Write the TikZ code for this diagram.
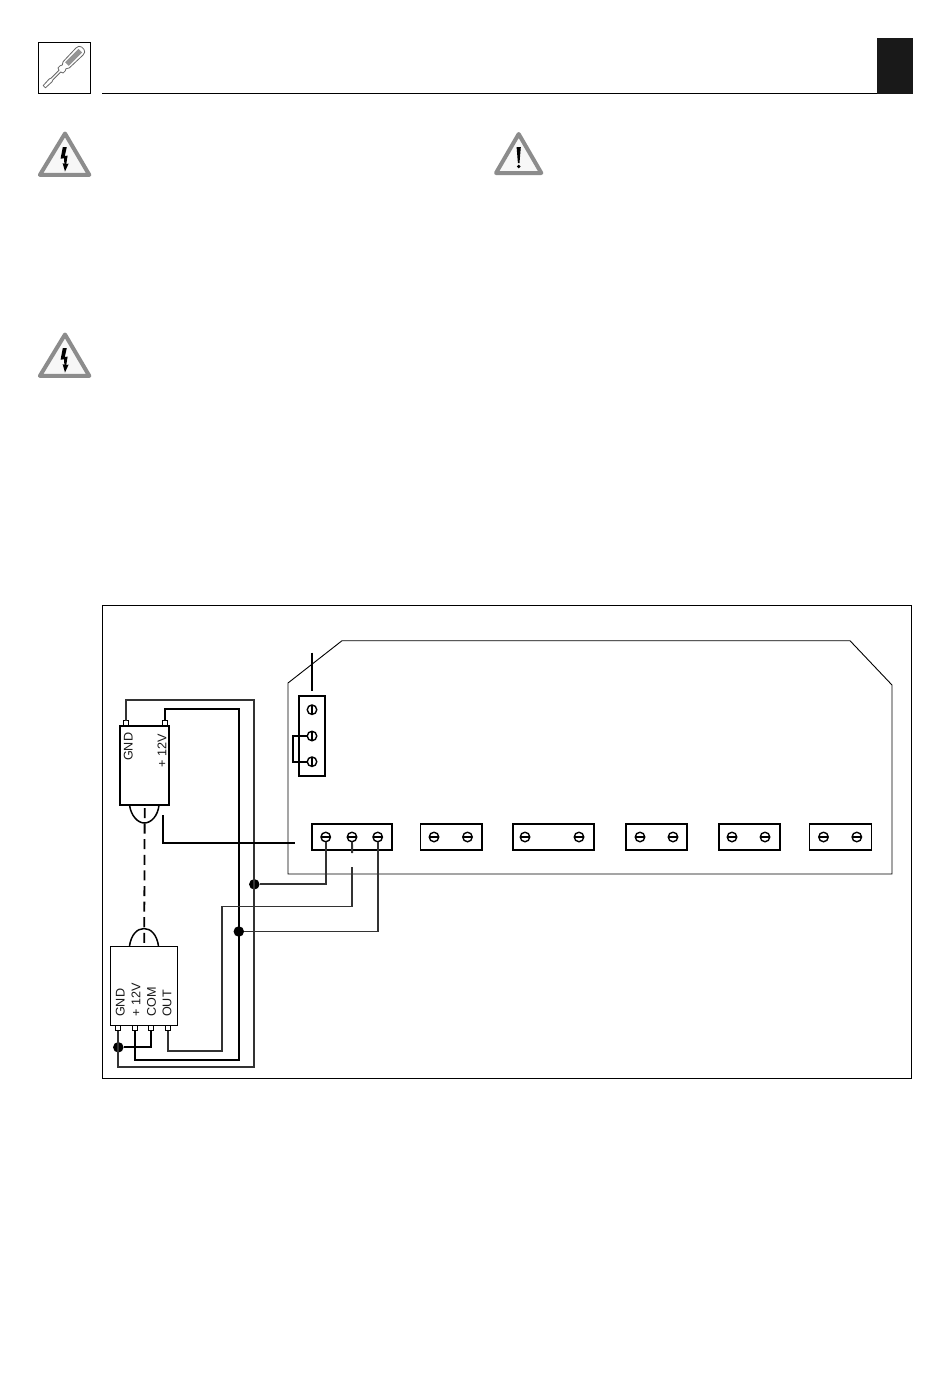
\documentclass[tikz,border=0pt]{standalone}
\usepackage{fontspec}
\setmainfont{Liberation Sans}
\tikzset{
  wire/.style={draw=black,line width=1.9pt,line join=miter},
  thinwire/.style={draw=black!80,line width=1.9pt},
  outline/.style={draw=black,line width=0.9pt},
  blockbox/.style={draw=black,line width=1.7pt,fill=white,inner sep=0pt,outer sep=0pt},
  sensorbox/.style={draw=black,line width=1.5pt,fill=white,inner sep=0pt,outer sep=0pt},
  terminal/.style={draw=black,line width=1.3pt,fill=white,minimum size=5pt,inner sep=0pt,outer sep=0pt},
  screwh/.style={circle,draw=black,line width=1.4pt,fill=white,minimum size=9.5pt,inner sep=0pt,outer sep=0pt,
     path picture={\draw[line width=1.6pt] (path picture bounding box.west) -- (path picture bounding box.east);}},
  screwv/.style={circle,draw=black,line width=1.4pt,fill=white,minimum size=9.5pt,inner sep=0pt,outer sep=0pt,
     path picture={\draw[line width=1.2pt] (path picture bounding box.north) -- (path picture bounding box.south);}},
  joint/.style={circle,fill=black,minimum size=10.5pt,inner sep=0pt,outer sep=0pt},
  pinlabel/.style={rotate=90,anchor=west,inner sep=0pt,font=\fontsize{12.6}{14}\selectfont,text=black!90},
  tritri/.style={draw=black!45,line width=4pt,line join=round,fill=black!3},
}
\begin{document}
\begin{tikzpicture}[x=1pt,y=-1pt]
\useasboundingbox[fill=white] (0,0) rectangle (950,1374);

% header
\draw[line width=0.9pt] (38.5,42.5) rectangle (90,93.5);
\draw[line width=0.9pt] (102,93.7) -- (877,93.7);
\fill[black!90] (877,38) rectangle (913,94);

% screwdriver
\begin{scope}[shift={(44.3,86.7)},rotate=45]
  \draw[black!60,line width=0.8pt,fill=white,line join=round]
    (0,-1.6) -- (9,-2) -- (11,-1.2) -- (22,-1.2) -- (23,-3.6) -- (26,-3.6) -- (28,-2.6) -- (31,-4.4) -- (50,-5)
    to[out=0,in=90] (54.5,-1.5) -- (54.5,1.5) to[out=-90,in=0] (50,5) -- (31,4.4) -- (28,2.6) -- (26,3.6) -- (23,3.6) -- (22,1.2) -- (11,1.2) -- (9,2) -- (0,1.6) -- cycle;
  \fill[black!42] (32,-2.6) rectangle (51,2.6);
\end{scope}

% warning triangles
\draw[tritri] (65,133.5) -- (89.3,174.9) -- (39.9,174.9) -- cycle;
\fill[black] (62.8,147) -- (66.8,147) -- (64.8,156) -- (67.6,155.6) -- (66.3,164) -- (68.6,163.6) -- (65,171.5) -- (62.6,163) -- (64.4,164) -- (64,158.4) -- (60.6,158.6) -- cycle;
\draw[tritri] (65,334.5) -- (89.3,375.9) -- (39.9,375.9) -- cycle;
\fill[black] (62.8,348) -- (66.8,348) -- (64.8,357) -- (67.6,356.6) -- (66.3,365) -- (68.6,364.6) -- (65,372.5) -- (62.6,364) -- (64.4,365) -- (64,359.4) -- (60.6,359.6) -- cycle;
\draw[tritri] (518.7,134) -- (541.3,173) -- (496,173) -- cycle;
\fill[black] (516.6,147) -- (520.8,147) -- (519.5,163) -- (517.9,163) -- cycle;
\fill[black] (518.7,166.5) circle (1.9pt);

% frame and board
\draw[outline] (102.5,605.5) rectangle (911.5,1078.5);
\draw[outline] (288,683) -- (342,640.7) -- (850,640.7) -- (892,685) -- (892,874) -- (288,874) -- cycle;

% upper sensor
\draw[line width=1.5pt] (129.5,805) .. controls (131,816) and (138,823) .. (144.3,823) .. controls (151,823) and (158,816) .. (159,805);
\node[sensorbox,minimum width=49pt,minimum height=79pt] (us) at (144.7,765.5) {};
\node[terminal] (usgnd) at (126.3,723.2) {};
\node[terminal] (us12) at (164.7,723.2) {};
\node[pinlabel] at (128.3,761) {GND};
\node[pinlabel] at (162,768) {+ 12V};

% lower sensor
\draw[line width=1.5pt] (129.5,946) .. controls (131,935) and (137,928.5) .. (144,928.5) .. controls (151,928.5) and (157,935) .. (158.5,946);
\node[sensorbox,minimum width=67pt,minimum height=78.6pt] (ls) at (144.2,986) {};
\node[terminal] (lsgnd) at (118.3,1028.2) {};
\node[terminal] (ls12) at (134.7,1028.2) {};
\node[terminal] (lscom) at (151,1028.2) {};
\node[terminal] (lsout) at (167.7,1028.2) {};
\node[pinlabel] at (120.3,1017) {GND};
\node[pinlabel] at (135.9,1017) {+ 12V};
\node[pinlabel] at (151.5,1017) {COM};
\node[pinlabel] at (167,1017) {OUT};

% dashed link between the sensors
\draw[line width=1.8pt,dash pattern=on 10pt off 5.6pt,dash phase=-3pt] (us.south) -- (ls.north);

% terminal blocks
\node[blockbox,minimum width=26pt,minimum height=80pt] (jb) at (312,735.7) {};
\node[screwv] (j1) at (312,709.7) {};
\node[screwv] (j2) at (312,736) {};
\node[screwv] (j3) at (312,761.7) {};

\node[blockbox,minimum width=80pt,minimum height=26.4pt] (b1) at (352,837) {};
\node[screwh] (b1a) at (325.7,837) {};
\node[screwh] (b1b) at (352,837) {};
\node[screwh] (b1c) at (377.7,837) {};

\node[blockbox,minimum width=61.5pt,minimum height=26.4pt] (b2) at (451.2,837) {};
\node[screwh] (b2a) at (434,837) {};
\node[screwh] (b2b) at (467.5,837) {};

\node[blockbox,minimum width=81pt,minimum height=26.4pt] (b3) at (553.5,837) {};
\node[screwh] (b3a) at (525,837) {};
\node[screwh] (b3b) at (579,837) {};

\node[blockbox,minimum width=61pt,minimum height=26.4pt] (b4) at (656.5,837) {};
\node[screwh] (b4a) at (640,837) {};
\node[screwh] (b4b) at (673,837) {};

\node[blockbox,minimum width=61pt,minimum height=26.4pt] (b5) at (749.5,837) {};
\node[screwh] (b5a) at (732,837) {};
\node[screwh] (b5b) at (765,837) {};

\node[blockbox,minimum width=62pt,minimum height=26.4pt] (b6) at (840.5,837) {};
\node[screwh] (b6a) at (823.5,837) {};
\node[screwh] (b6b) at (856.8,837) {};

% junction dots
\node[joint] (d1) at (254.3,884.3) {};
\node[joint] (d2) at (238.8,931.5) {};
\node[joint] (d3) at (118.3,1047.3) {};

% free ends and bends
\coordinate (jtop) at (312,652.7);
\coordinate (jend) at (312,691);
\coordinate (stubA) at (163.3,815);
\coordinate (stubB) at (295,843);
\coordinate (midA) at (352.2,853);
\coordinate (midB) at (352.2,867);
\coordinate (jleft) at (293,736);

% wiring
\draw[thinwire] (usgnd.north) |- (254.3,700) -- (254.3,1067) -| (lsgnd.south);
\draw[wire] (us12.north) |- (238.8,709.3) -- (238.8,1060) -| (ls12.south);
\draw[wire] (lscom.south) |- (d3);
\draw[thinwire] (lsout.south) |- (221.7,1051) -- (221.7,906.5) -| (midB);
\draw[thinwire] (b1b.south) -- (midA);
\draw[thinwire] (b1a.south) |- (d1);
\draw[thinwire] (b1c.south) |- (d2);
\draw[wire] (stubA) |- (stubB);
\draw[wire] (jtop) -- (jend);
\draw[wire] (j2.west) -- (jleft) |- (j3.west);
\end{tikzpicture}
\end{document}
